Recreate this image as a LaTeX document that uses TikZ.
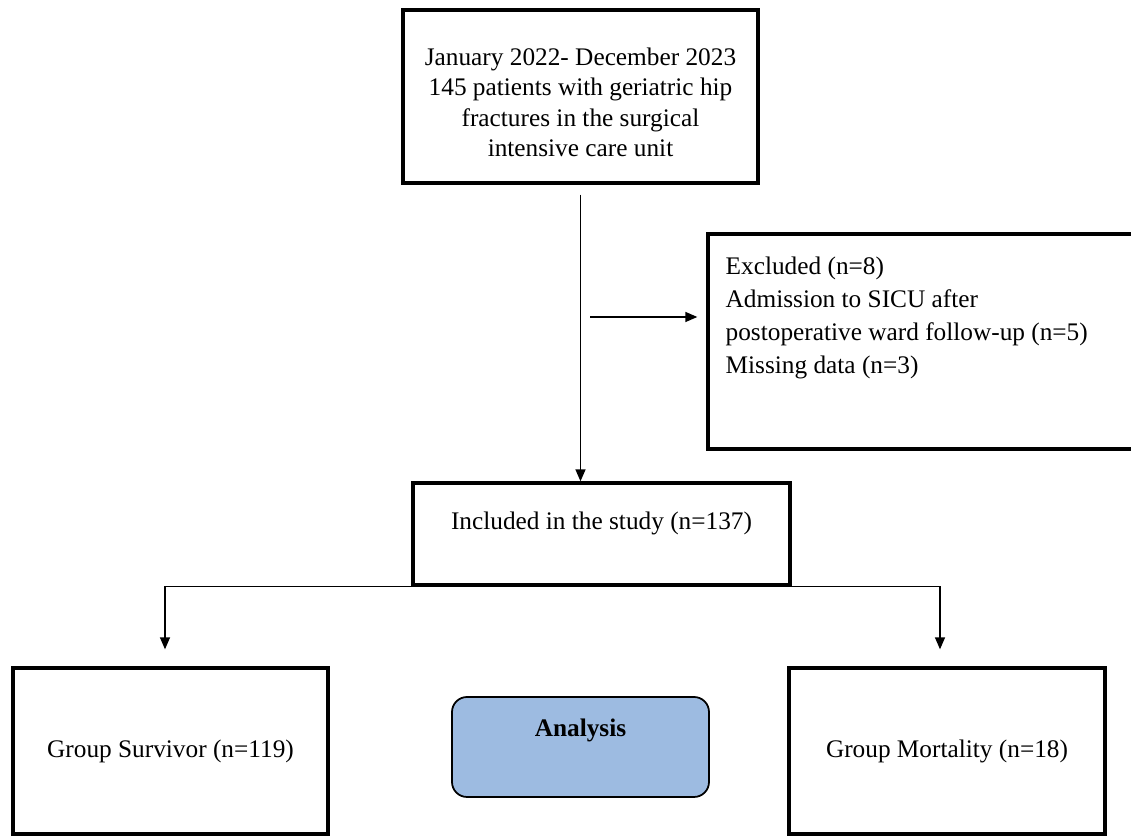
\documentclass[tikz,border=0pt]{standalone}
\usepackage{fontspec}
\setmainfont{Liberation Serif}
\usetikzlibrary{arrows.meta}
\definecolor{analysisblue}{RGB}{157,187,225}

\begin{document}
\begin{tikzpicture}[
  box/.style={draw, line width=1.9pt, inner sep=0pt},
  txt/.style={inner sep=0pt, font=\fontsize{14.4}{17.3}\selectfont},
  arr/.style={line width=0.8pt, -{Triangle[width=0.2cm,length=0.24cm]}}
]
\clip (0,0) rectangle (22.62,16.72);
% top box
\node[box, minimum width=7.1cm, minimum height=3.46cm] (start) at (11.61,14.79) {};
\node[txt, align=center] (starttxt) at ([yshift=-0.12cm]start.center) {January 2022- December 2023\\145 patients with geriatric hip\\fractures in the surgical\\intensive care unit};
% excluded
\node[box, minimum width=9.04cm, minimum height=4.3cm] (excl) at (18.68,9.89) {};
\node[txt, align=left, anchor=north west, font=\fontsize{14.4}{18.8}\selectfont] (excltxt) at ([xshift=0.38cm,yshift=-0.49cm]excl.north west) {Excluded (n=8)\\Admission to SICU after\\postoperative ward follow-up (n=5)\\Missing data (n=3)};
% included
\node[box, minimum width=7.54cm, minimum height=2.04cm] (incl) at (12.03,6.04) {};
\node[txt] (incltxt) at ([yshift=0.22cm]incl.center) {Included in the study (n=137)};
% groups
\node[box, minimum width=6.3cm, minimum height=3.32cm] (surv) at (3.41,1.70) {};
\node[txt] (survtxt) at (surv.center) {Group Survivor (n=119)};
\node[box, minimum width=6.32cm, minimum height=3.32cm] (mort) at (18.94,1.70) {};
\node[txt] (morttxt) at (mort.center) {Group Mortality (n=18)};
\node[draw, line width=1pt, fill=analysisblue, rounded corners=0.3cm, minimum width=5.14cm, minimum height=2cm] (analysis) at (11.61,1.78) {};
\node[txt, font=\fontsize{14.4}{17.3}\selectfont\bfseries] (analysistxt) at ([yshift=0.34cm]analysis.center) {Analysis};
% connectors
\draw[arr] ([yshift=-0.2cm]start.south) -- (start.south |- incl.north);
\coordinate (exclfrom) at (11.80,10.38);
\draw[arr] (exclfrom) -- ([xshift=-0.18cm]excl.west |- exclfrom);
\draw[arr] (incl.south west) -| ([xshift=-0.11cm,yshift=0.34cm]surv.north);
\draw[arr] (incl.south east) -| ([xshift=-0.14cm,yshift=0.34cm]mort.north);
\end{tikzpicture}
\end{document}
